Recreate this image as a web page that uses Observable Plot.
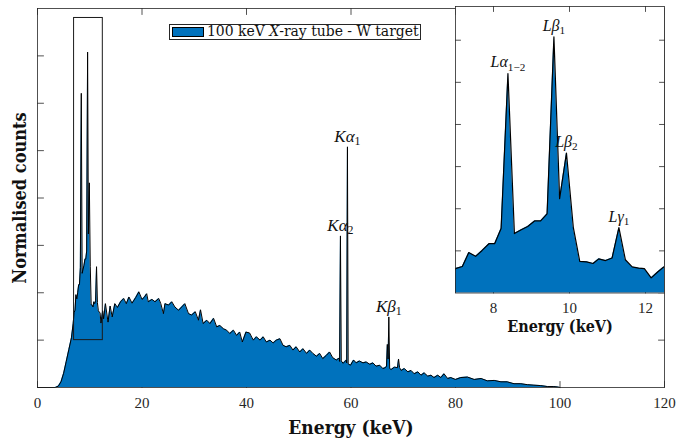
<!DOCTYPE html>
<html>
<head>
<meta charset="utf-8">
<script src="https://cdn.jsdelivr.net/npm/d3@7"></script>
<script src="https://cdn.jsdelivr.net/npm/@observablehq/plot@0.6"></script>
<style>
  html, body { margin: 0; padding: 0; background: white; }
  #chart { position: relative; width: 676px; height: 443px; overflow: hidden; }
  #chart svg { position: absolute; top: 0; }
  #legend {
    position: absolute; left: 169px; top: 24px; width: 252px; height: 16px;
    box-sizing: border-box; border: 1px solid #262626; background: white;
    font-family: "DejaVu Serif Condensed", "DejaVu Serif", serif; font-stretch: condensed;
    font-size: 15.5px; color: #111; white-space: nowrap;
  }
  #legend .swatch {
    position: absolute; left: 2px; top: 2px; width: 32px; height: 10px;
    box-sizing: border-box; border: 1px solid #000; background: #0072BD;
  }
  #legend .label { position: absolute; left: 37px; top: -3px; line-height: 18px; }
</style>
</head>
<body>
<div id="chart"></div>
<script>
// Normalised counts of a 100 keV tungsten-target X-ray tube spectrum.
// Rising edge below the W L-lines
const energyLow = [0, 3.4, 4.0, 4.5, 5.0, 5.5, 6.0, 6.5, 6.83];
const countsLow = [0, 0, 0.03, 0.12, 0.30, 0.55, 0.80, 1.05, 1.35];

// W L-line region (shown enlarged in the inset)
const energyL = [7.00, 7.18, 7.35, 7.53, 7.70, 7.88, 8.03, 8.20, 8.38, 8.55, 8.73, 8.90, 9.08, 9.24, 9.41, 9.59, 9.74, 9.92, 10.10, 10.27, 10.45, 10.62, 10.77, 10.95, 11.12, 11.30, 11.47, 11.65, 11.82, 11.97, 12.15, 12.32, 12.48];
const countsL = [1.58, 1.63, 1.96, 1.87, 2.01, 2.17, 2.17, 2.53, 6.21, 2.41, 2.50, 2.58, 2.71, 2.71, 2.88, 7.08, 3.24, 4.32, 2.56, 1.75, 1.74, 1.70, 1.81, 1.77, 1.83, 2.55, 1.79, 1.62, 1.59, 1.58, 1.36, 1.50, 1.62];

// Bremsstrahlung continuum with the W K-lines, up to the 100 keV endpoint
const energyC = [12.65, 13.0, 13.5, 13.9, 14.3, 14.8, 15.3, 15.9, 16.5, 17.0, 17.5, 18.1, 18.8, 19.4, 20.0, 20.4, 20.9, 21.2, 21.9, 22.5, 23.2, 23.6, 24.1, 24.4, 25.1, 25.7, 26.3, 27.0, 27.6, 28.2, 28.9, 29.5, 30.2, 30.8, 31.2, 31.7, 32.4, 33.0, 33.7, 34.3, 34.9, 35.6, 36.2, 36.8, 37.5, 38.1, 38.7, 39.2, 39.9, 40.6, 41.3, 41.9, 42.6, 43.2, 43.8, 44.5, 45.1, 45.7, 46.4, 47.0, 47.6, 48.3, 48.9, 49.5, 50.2, 50.8, 51.5, 52.1, 52.7, 53.4, 54.0, 54.6, 55.3, 55.9, 56.5, 57.2, 57.7, 57.82, 57.98, 58.14, 58.5, 59.1, 59.18, 59.32, 59.46, 59.9, 60.5, 61.0, 61.6, 62.3, 62.9, 63.6, 64.2, 64.8, 65.5, 66.1, 66.6, 66.8, 66.95, 67.1, 67.24, 67.4, 67.7, 68.3, 68.9, 69.1, 69.3, 69.6, 70.2, 70.9, 71.5, 72.1, 72.8, 73.4, 74.0, 74.7, 75.3, 75.9, 76.6, 77.2, 77.8, 78.5, 79.1, 80.0, 81.0, 82.3, 83.6, 84.9, 86.1, 87.4, 88.7, 89.9, 91.2, 92.5, 93.8, 95.0, 96.3, 97.6, 98.8, 99.6, 100.0];
const countsC = [1.45, 1.77, 1.38, 1.72, 1.49, 1.77, 1.69, 1.81, 1.88, 1.77, 1.91, 1.78, 1.90, 2.02, 1.86, 1.90, 1.98, 1.81, 1.86, 1.81, 1.88, 1.77, 1.56, 1.77, 1.74, 1.81, 1.70, 1.63, 1.70, 1.77, 1.56, 1.53, 1.60, 1.42, 1.64, 1.35, 1.42, 1.35, 1.46, 1.28, 1.31, 1.24, 1.21, 1.14, 1.21, 1.10, 1.17, 0.96, 1.17, 1.15, 1.00, 1.07, 1.00, 1.07, 0.96, 1.00, 0.94, 1.00, 1.03, 0.89, 0.86, 0.89, 0.79, 0.86, 0.75, 0.82, 0.72, 0.79, 0.72, 0.66, 0.72, 0.61, 0.68, 0.75, 0.63, 0.58, 0.62, 0.55, 3.20, 0.56, 0.51, 0.58, 0.52, 5.08, 0.50, 0.47, 0.58, 0.52, 0.56, 0.52, 0.54, 0.49, 0.52, 0.45, 0.47, 0.40, 0.42, 0.45, 0.91, 0.60, 1.49, 0.40, 0.38, 0.43, 0.42, 0.60, 0.42, 0.36, 0.40, 0.33, 0.36, 0.29, 0.33, 0.26, 0.31, 0.24, 0.26, 0.21, 0.26, 0.21, 0.29, 0.19, 0.21, 0.17, 0.21, 0.22, 0.17, 0.19, 0.14, 0.15, 0.12, 0.12, 0.08, 0.08, 0.06, 0.05, 0.04, 0.02, 0.02, 0.01, 0];

// Characteristic lines to annotate: symbol and subscript
const kLineNames = ["Kα", "Kα", "Kβ"];
const kLineSubs = ["2", "1", "1"];
const kLineEnergies = [57.98, 59.32, 67.24];
const lLineNames = ["Lα", "Lβ", "Lβ", "Lγ"];
const lLineSubs = ["1−2", "1", "2", "1"];
const lLineEnergies = [8.38, 9.59, 9.92, 11.30];

// Axis ticks and the zoomed window
const xTicks = [0, 20, 40, 60, 80, 100, 120];
const yTicks = [1, 2, 3, 4, 5, 6, 7];
const insetXTicks = [8, 10, 12];
const insetYTicks = [2, 3, 4, 5, 6, 7];
const zoomEnergy = [7, 12.5];
const zoomCounts = [1, 7.8];

const legendHTML = "100 keV <i>X</i>-ray tube - W target";
const xLabel = "Energy (keV)";
const yLabel = "Normalised counts";

const energies = [...energyLow, ...energyL, ...energyC];
const counts = [...countsLow, ...countsL, ...countsC];
const spectrum = energies.map((e, i) => ({energy: e, counts: counts[i]}));
const countAt = (e) => spectrum.find((d) => d.energy === e).counts;
const SEP = "|";
const lineLabels = (names, subs, es) => es.map((e, i) => ({energy: e, counts: countAt(e), label: names[i] + SEP + subs[i]}));
const kLabels = lineLabels(kLineNames, kLineSubs, kLineEnergies);
const lLabels = lineLabels(lLineNames, lLineSubs, lLineEnergies);

const blue = "#0072BD";
const axisColor = "#262626";
const labelFont = "'DejaVu Serif Condensed', 'DejaVu Serif', serif";
const tickFont = "'Liberation Serif', serif";

// Inward-pointing tick marks on all four sides of a box
const tickShape = {draw(ctx, l) { ctx.moveTo(0, 0); ctx.lineTo(0, -l); }};
function boxTicks(xs, ys, len) {
  const common = {length: len, anchor: "start", shape: tickShape, stroke: axisColor, strokeWidth: 0.8};
  return [
    Plot.vector(xs, {x: (d) => d, frameAnchor: "bottom", rotate: 0, ...common}),
    Plot.vector(xs, {x: (d) => d, frameAnchor: "top", rotate: 180, ...common}),
    Plot.vector(ys, {y: (d) => d, frameAnchor: "left", rotate: 90, ...common}),
    Plot.vector(ys, {y: (d) => d, frameAnchor: "right", rotate: -90, ...common})
  ];
}

const lineTextOptions = {x: "energy", y: "counts", text: "label", lineAnchor: "bottom", textAnchor: "middle",
  fontStyle: "italic", fontFamily: tickFont, fill: "#111"};

const main = Plot.plot({
  width: 676, height: 443,
  marginLeft: 37, marginRight: 12, marginTop: 8, marginBottom: 56,
  x: {domain: [0, 120]},
  y: {domain: [0, 8], axis: null},
  style: {background: "transparent", color: axisColor},
  marks: [
    ...boxTicks(xTicks, yTicks, 6),
    Plot.areaY(spectrum, {x: "energy", y: "counts", fill: blue}),
    Plot.lineY(spectrum, {x: "energy", y: "counts", stroke: "black", strokeWidth: 1}),
    Plot.rect([{x1: zoomEnergy[0], x2: zoomEnergy[1], y1: zoomCounts[0], y2: zoomCounts[1]}],
      {x1: "x1", x2: "x2", y1: "y1", y2: "y2", fill: "none", stroke: "#1a1a1a", strokeWidth: 1}),
    Plot.frame({stroke: axisColor, strokeWidth: 0.8}),
    Plot.axisX(xTicks, {tickSize: 0, tickPadding: 10, label: null, fontSize: 15, fontFamily: tickFont}),
    Plot.text(kLabels, {...lineTextOptions, dy: -5, fontSize: 17}),
    Plot.text([xLabel], {frameAnchor: "bottom", lineAnchor: "bottom", textAnchor: "middle", dy: 46, fontSize: 19,
      fontWeight: "bold", fontFamily: labelFont, fill: "#111"}),
    Plot.text([yLabel], {frameAnchor: "left", rotate: -90, lineAnchor: "middle", textAnchor: "middle", dx: -17,
      fontSize: 18, fontWeight: "bold", fontFamily: labelFont, fill: "#111"})
  ]
});

const inset = Plot.plot({
  width: 236, height: 345,
  marginLeft: 15, marginRight: 12, marginTop: 6, marginBottom: 52.5,
  x: {domain: zoomEnergy},
  y: {domain: zoomCounts, axis: null},
  style: {background: "transparent", color: axisColor},
  marks: [
    Plot.frame({fill: "white"}),
    ...boxTicks(insetXTicks, insetYTicks, 5),
    Plot.areaY(spectrum, {x: "energy", y: "counts", fill: blue, clip: true}),
    Plot.lineY(spectrum, {x: "energy", y: "counts", stroke: "black", strokeWidth: 1.2, clip: true}),
    Plot.frame({stroke: axisColor, strokeWidth: 0.8}),
    Plot.axisX(insetXTicks, {tickSize: 0, tickPadding: 9, label: null, fontSize: 15, fontFamily: tickFont}),
    Plot.text(lLabels, {...lineTextOptions, dy: -6, fontSize: 16}),
    Plot.text([xLabel], {frameAnchor: "bottom", lineAnchor: "bottom", textAnchor: "middle", dy: 39, fontSize: 16,
      fontWeight: "bold", fontFamily: labelFont, fill: "#111"})
  ]
});

// Split "symbol|subscript" labels into an italic symbol and an upright subscript
function addSubscripts(svg) {
  d3.select(svg).selectAll("text").each(function() {
    const t = this.textContent;
    if (!t.includes(SEP)) return;
    const [base, sub] = t.split(SEP);
    const el = d3.select(this).text(base);
    el.append("tspan")
      .attr("dy", "0.3em")
      .attr("font-size", "0.7em")
      .attr("font-style", "normal")
      .text(sub);
  });
}
addSubscripts(main);
addSubscripts(inset);

const chart = document.getElementById("chart");
main.style.left = "0px";
inset.style.left = "440px";
chart.append(main, inset);

const legend = document.createElement("div");
legend.id = "legend";
legend.innerHTML = `<span class="swatch"></span><span class="label">${legendHTML}</span>`;
chart.append(legend);
</script>
</body>
</html>
